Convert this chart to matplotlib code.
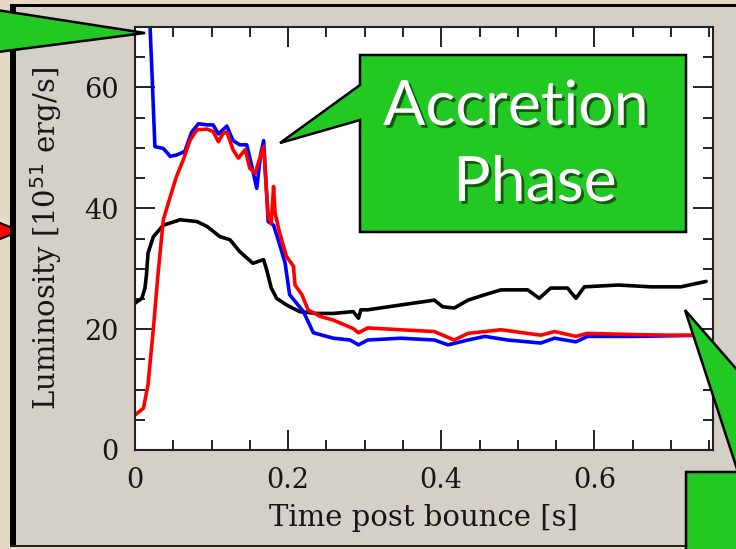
import matplotlib
matplotlib.use("Agg")
import matplotlib.pyplot as plt
import matplotlib.patheffects as pe
from matplotlib.patches import Rectangle, Polygon
from matplotlib.ticker import MultipleLocator

# Neutrino luminosities after core bounce
blue_t = [0.018, 0.020, 0.022, 0.026, 0.037, 0.046, 0.054, 0.065, 0.074, 0.083,
          0.094, 0.102, 0.109, 0.120, 0.128, 0.137, 0.146, 0.152, 0.159, 0.164,
          0.168, 0.174, 0.181, 0.187, 0.196, 0.202, 0.220, 0.233, 0.259, 0.281,
          0.292, 0.304, 0.347, 0.391, 0.409, 0.435, 0.457, 0.487, 0.530, 0.548,
          0.576, 0.591, 0.652, 0.700, 0.745]
blue_L = [76.0, 69.0, 63.0, 50.2, 49.9, 48.6, 48.8, 49.4, 52.6, 54.0,
          53.8, 53.8, 52.3, 53.6, 51.2, 50.5, 50.5, 47.3, 43.3, 48.8,
          51.2, 37.8, 37.2, 34.8, 31.0, 25.7, 22.9, 19.4, 18.5, 18.2,
          17.4, 18.2, 18.5, 18.2, 17.4, 18.2, 18.8, 18.2, 17.7, 18.5,
          17.9, 18.8, 18.8, 18.9, 19.0]

red_t = [0.000, 0.011, 0.017, 0.024, 0.030, 0.037, 0.046, 0.054, 0.063, 0.072,
         0.081, 0.094, 0.102, 0.109, 0.115, 0.120, 0.128, 0.135, 0.144, 0.150,
         0.157, 0.161, 0.168, 0.174, 0.178, 0.181, 0.183, 0.189, 0.198, 0.207,
         0.209, 0.218, 0.226, 0.242, 0.259, 0.285, 0.292, 0.304, 0.347, 0.391,
         0.417, 0.435, 0.478, 0.530, 0.548, 0.576, 0.591, 0.652, 0.700, 0.745]
red_L = [5.8, 6.9, 10.8, 20.1, 29.0, 38.1, 41.9, 45.2, 48.0, 51.3,
         53.0, 53.1, 52.7, 51.0, 52.4, 52.6, 49.7, 48.3, 49.7, 46.6,
         45.8, 47.5, 50.2, 38.6, 37.5, 43.6, 39.2, 35.9, 32.0, 30.4,
         27.3, 25.7, 23.2, 22.1, 21.5, 20.1, 19.4, 20.2, 19.9, 19.6,
         18.2, 19.3, 19.9, 19.0, 19.6, 18.8, 19.3, 19.1, 19.0, 19.0]

black_t = [0.000, 0.009, 0.013, 0.015, 0.017, 0.024, 0.037, 0.059, 0.081, 0.094,
           0.111, 0.124, 0.137, 0.154, 0.168, 0.172, 0.178, 0.185, 0.198, 0.215,
           0.237, 0.259, 0.285, 0.292, 0.295, 0.304, 0.347, 0.391, 0.402, 0.417,
           0.435, 0.457, 0.478, 0.513, 0.528, 0.543, 0.565, 0.576, 0.587, 0.631,
           0.674, 0.713, 0.746]
black_L = [24.3, 25.1, 26.8, 29.0, 32.6, 35.3, 37.2, 38.1, 37.8, 37.0,
           35.3, 34.8, 32.8, 30.9, 31.5, 29.8, 26.8, 25.1, 24.0, 22.9,
           22.6, 22.6, 22.9, 21.8, 23.2, 23.2, 24.0, 24.8, 23.7, 23.5,
           24.8, 25.7, 26.5, 26.5, 25.1, 26.8, 26.8, 25.1, 27.0, 27.3,
           27.0, 27.0, 27.9]

x_ticks = [0, 0.2, 0.4, 0.6]
x_tick_labels = ["0", "0.2", "0.4", "0.6"]
y_ticks = [0, 20, 40, 60]
y_tick_labels = ["0", "20", "40", "60"]

W, H = 736, 549
GREEN = "#22c922"
PANEL = "#d4d0c8"
SLIDE = "#e6dbc2"
INK = "#161616"

fig = plt.figure(figsize=(W / 100, H / 100), dpi=100, facecolor=SLIDE)

# background layer in pixel coordinates
bg = fig.add_axes([0, 0, 1, 1], zorder=0)
bg.set_xlim(0, W)
bg.set_ylim(H, 0)
bg.axis("off")
bg.add_patch(Polygon([(-10, 219), (20, 231), (-10, 243)], closed=True,
                     facecolor="#ff0000", edgecolor="black", lw=1.5))
bg.add_patch(Rectangle((13, 5), 740, 541, facecolor=PANEL, edgecolor="none"))
bg.add_patch(Rectangle((10, 4), 6, 543, facecolor="black", edgecolor="none"))
bg.add_patch(Rectangle((10, 4), 740, 3, facecolor="black", edgecolor="none"))
bg.add_patch(Rectangle((10, 545), 740, 2, facecolor="#222222", edgecolor="none"))

# main plot
ax = fig.add_axes([135 / W, (H - 450) / H, (713 - 135) / W, (450 - 27) / H], zorder=1)
ax.set_facecolor("white")
line_kw = dict(lw=2.6, solid_joinstyle="round", solid_capstyle="round")
ax.plot(black_t, black_L, color="black", **line_kw)
ax.plot(blue_t, blue_L, color="#0000ff", **line_kw)
ax.plot(red_t, red_L, color="#ff0000", **line_kw)
ax.set_xlim(0, 0.755)
ax.set_ylim(0, 70)
ax.set_xticks(x_ticks)
ax.set_xticklabels(x_tick_labels)
ax.set_yticks(y_ticks)
ax.set_yticklabels(y_tick_labels)
ax.xaxis.set_minor_locator(MultipleLocator(0.05))
ax.yaxis.set_minor_locator(MultipleLocator(5))
ax.tick_params(which="both", direction="in", top=True, right=True,
               color="#222222", width=1.4)
ax.tick_params(which="major", length=14.5, labelsize=19.5, pad=12)
ax.tick_params(which="minor", length=7.2)
for lab in ax.get_xticklabels() + ax.get_yticklabels():
    lab.set_fontfamily("DejaVu Serif")
    lab.set_color(INK)
for s in ax.spines.values():
    s.set_linewidth(1.5)
    s.set_color("#222222")

fig.text(423 / W, 1 - 518 / H, "Time post bounce [s]", family="DejaVu Serif",
         fontsize=21, ha="center", va="center", color=INK)
fig.text(46 / W, 1 - 238 / H, r"Luminosity [10$^{51}$ erg/s]", family="DejaVu Serif",
         fontsize=21, ha="center", va="center", rotation=90, color=INK)

# callouts on top
ov = fig.add_axes([0, 0, 1, 1], zorder=2)
ov.set_xlim(0, W)
ov.set_ylim(H, 0)
ov.axis("off")
ov.patch.set_alpha(0)

callout_kw = dict(closed=True, facecolor=GREEN, edgecolor="black", lw=1.8,
                  joinstyle="miter")
ov.add_patch(Polygon([(-10, 9), (145, 33), (-10, 53)], **callout_kw))
ov.add_patch(Polygon([(360, 55), (686, 55), (686, 232), (360, 232), (360, 120),
                      (280, 143), (360, 85)], **callout_kw))
ov.add_patch(Polygon([(686, 472), (738, 472), (685, 310), (826, 472), (900, 472),
                      (900, 600), (686, 600)], **callout_kw))

shadow = [pe.withSimplePatchShadow(offset=(2, -2), shadow_rgbFace="black", alpha=0.55)]
ov.text(516, 107, "Accretion", family="Lato", fontsize=45, color="white",
        ha="center", va="center", path_effects=shadow)
ov.text(535, 183, "Phase", family="Lato", fontsize=45, color="white",
        ha="center", va="center", path_effects=shadow)

fig.savefig("out.png", dpi=100, facecolor=SLIDE)
